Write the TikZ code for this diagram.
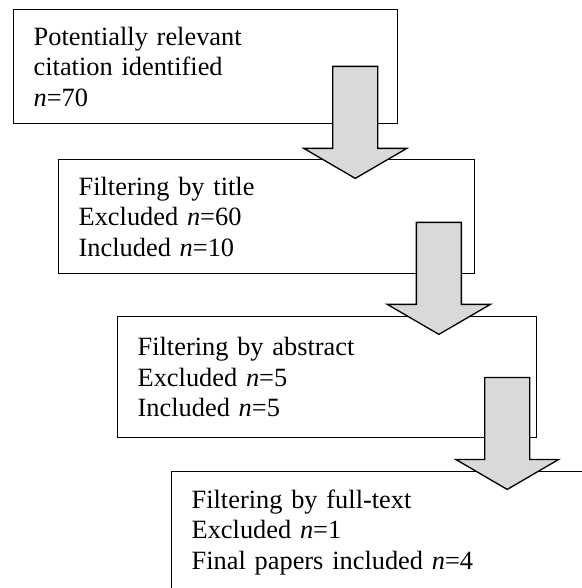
\documentclass[tikz,border=0pt]{standalone}
\usepackage{fontspec}
\setmainfont{Liberation Serif}
\usepackage{tikz}
\usetikzlibrary{calc}
\definecolor{arrowgray}{RGB}{217,217,217}
\tikzstyle{stagebox} = [rectangle, draw=black, fill=white, line width=0.6pt, anchor=north west, align=left, inner xsep=9pt, inner ysep=0pt, font=\fontsize{12}{13.8}\selectfont]
\tikzstyle{blockarr} = [draw=black, fill=arrowgray, line width=0.6pt, line join=miter]
\newcommand{\blockarrow}[1]{\draw[blockarr] ($(#1)+(-22.5,0)$) -- ++(45,0) -- ++(0,82) -- ++(29,0) -- ++(-51.5,30) -- ++(-51.5,-30) -- ++(29,0) -- cycle;}

\begin{document}
\begin{tikzpicture}[x=0.455pt, y=-0.455pt]
    \useasboundingbox (0,0) rectangle (582,588);
    \clip (0,0) rectangle (582,588);
    % stages
    \node (b1) [stagebox, minimum width=174.7pt, text width=156.5pt, minimum height=51.9pt] at (13,9) {Potentially relevant\\citation identified\\\textit{n}=70};
    \node (b2) [stagebox, minimum width=189.3pt, text width=171.1pt, minimum height=51.9pt] at (58,159) {Filtering by title\\Excluded \textit{n}=60\\Included \textit{n}=10};
    \node (b3) [stagebox, minimum width=190.6pt, text width=172.4pt, minimum height=55.1pt] at (117,316) {Filtering by abstract\\Excluded \textit{n}=5\\Included \textit{n}=5};
    \node (b4) [stagebox, minimum width=191.1pt, text width=172.9pt, minimum height=55.1pt] at (171,471) {Filtering by full-text\\Excluded \textit{n}=1\\Final papers included \textit{n}=4};
    % block arrows
    \coordinate (a1) at ($(b1.south east)+(-43,-58)$);
    \coordinate (a2) at ($(b2.south east)+(-36.5,-52)$);
    \coordinate (a3) at ($(b3.south east)+(-30,-61)$);
    \blockarrow{a1}
    \blockarrow{a2}
    \blockarrow{a3}
\end{tikzpicture}
\end{document}
